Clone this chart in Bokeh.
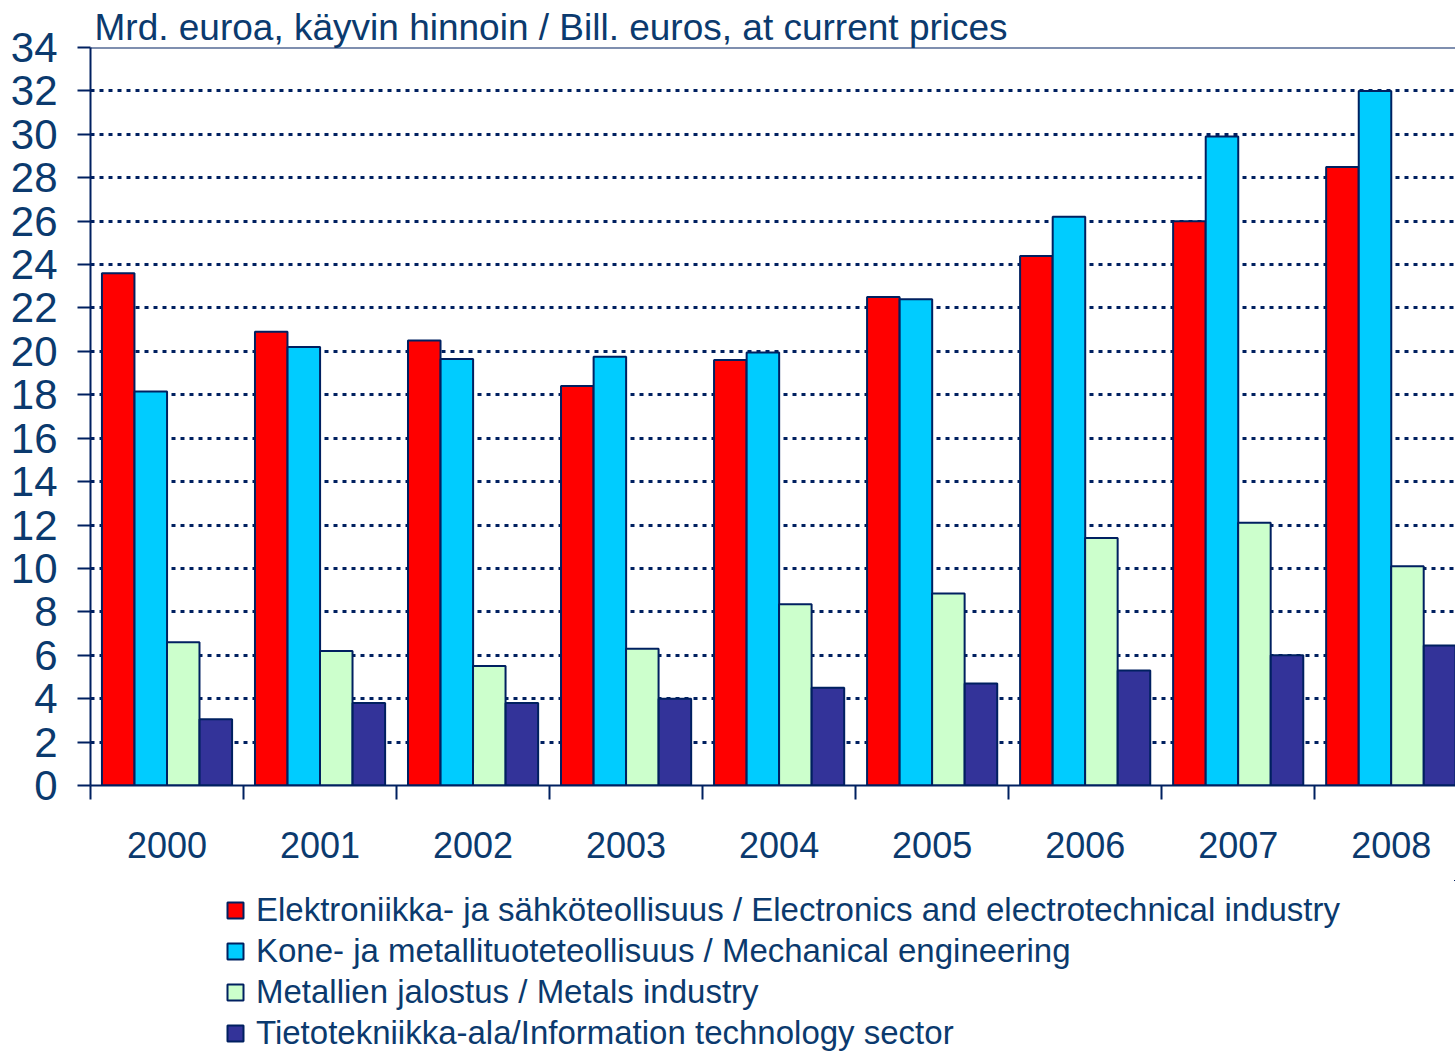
from bokeh.plotting import figure
from bokeh.layouts import column
from bokeh.models import Range1d, FixedTicker, Span, Legend, LegendItem, ColumnDataSource, Title
from bokeh.transform import dodge
from bokeh.embed import file_html
from bokeh.resources import INLINE

years = ["2000", "2001", "2002", "2003", "2004", "2005", "2006", "2007", "2008"]
electronics = [23.6, 20.9, 20.5, 18.4, 19.6, 22.5, 24.4, 26.0, 28.5]
mechanical = [18.15, 20.2, 19.65, 19.75, 19.95, 22.4, 26.2, 29.9, 32.0]
metals = [6.6, 6.2, 5.5, 6.3, 8.35, 8.85, 11.4, 12.1, 10.1]
it_sector = [3.05, 3.8, 3.8, 4.0, 4.5, 4.7, 5.3, 6.0, 6.45]
series_labels = [
    "Elektroniikka- ja sähköteollisuus / Electronics and electrotechnical industry",
    "Kone- ja metallituoteteollisuus / Mechanical engineering",
    "Metallien jalostus / Metals industry",
    "Tietotekniikka-ala/Information technology sector",
]
y_ticks = list(range(0, 35, 2))
title_text = "Mrd. euroa, käyvin hinnoin / Bill. euros, at current prices"

colors = ["#FF0000", "#00CCFF", "#CCFFCC", "#333399"]
navy = "#002060"
txt = "#0B3A6E"
font = "Liberation Sans"

xc = [i + 0.5 for i in range(len(years))]
src = ColumnDataSource(dict(x=xc, e=electronics, m=mechanical, mt=metals, it=it_sector))

p = figure(width=1455, height=880, output_backend="svg", toolbar_location=None,
           x_range=Range1d(0, 8.92), y_range=Range1d(0, 34),
           min_border_left=90, min_border_right=0, min_border_top=47,
           min_border_bottom=95)
p.outline_line_color = None
p.background_fill_color = "white"

p.title = Title(text=title_text, text_font=font, text_font_size="37px",
                text_color=txt, text_font_style="normal", align="left", offset=4,
                standoff=0)

# grid
p.xgrid.grid_line_color = None
p.ygrid.ticker = FixedTicker(ticks=y_ticks[1:-1])
p.ygrid.grid_line_color = navy
p.ygrid.grid_line_width = 3
p.ygrid.grid_line_dash = "4 5"
p.add_layout(Span(location=34, dimension="width", line_color=navy, line_width=2))

offsets = [-0.319, -0.106, 0.106, 0.319]
cols = ["e", "m", "mt", "it"]
for c, off, col in zip(cols, offsets, colors):
    p.vbar(x=dodge("x", off, range=p.x_range), top=c, width=0.2125, bottom=0,
           source=src, fill_color=col, line_color=navy, line_width=2)

# y axis
p.yaxis.ticker = FixedTicker(ticks=y_ticks)
p.yaxis.axis_line_color = navy
p.yaxis.axis_line_width = 2
p.yaxis.major_tick_line_color = navy
p.yaxis.major_tick_line_width = 2
p.yaxis.major_tick_in = 0
p.yaxis.major_tick_out = 13
p.yaxis.minor_tick_line_color = None
p.yaxis.major_label_text_font = font
p.yaxis.major_label_text_font_size = "42px"
p.yaxis.major_label_text_color = txt
p.yaxis.major_label_standoff = 20

# x axis
p.xaxis.ticker = FixedTicker(ticks=xc, minor_ticks=list(range(0, 10)))
p.xaxis.major_label_overrides = {x: y for x, y in zip(xc, years)}
p.xaxis.axis_line_color = navy
p.xaxis.axis_line_width = 2
p.xaxis.major_tick_line_color = None
p.xaxis.major_tick_in = 0
p.xaxis.major_tick_out = 0
p.xaxis.minor_tick_line_color = navy
p.xaxis.minor_tick_line_width = 2
p.xaxis.minor_tick_in = 0
p.xaxis.minor_tick_out = 14
p.xaxis.major_label_text_font = font
p.xaxis.major_label_text_font_size = "36px"
p.xaxis.major_label_text_color = txt
p.xaxis.major_label_standoff = 32

# legend in a separate strip below the chart; it shares the chart's data source,
# whose bars fall outside this strip's visible range
lg = figure(width=1455, height=174, output_backend="svg", toolbar_location=None,
            x_axis_type=None, y_axis_type=None,
            x_range=Range1d(-1001, -1000), y_range=Range1d(-1001, -1000),
            min_border_left=90, min_border_right=0, min_border_top=0, min_border_bottom=0)
lg.grid.visible = False
lg.outline_line_color = None
leg_r = [lg.vbar(x="x", top=c, width=0.2, bottom=0, source=src, fill_color=col,
                 line_color=navy, line_width=2) for c, col in zip(cols, colors)]
legend = Legend(items=[LegendItem(label=l, renderers=[r]) for l, r in zip(series_labels, leg_r)],
                location=(135, 2), orientation="vertical",
                label_text_font=font, label_text_font_size="33px", label_text_color=txt,
                glyph_width=20, glyph_height=20, label_height=36, spacing=3,
                label_standoff=11, padding=0, margin=0,
                border_line_color=None, background_fill_alpha=0)
lg.add_layout(legend, "center")

layout = column(p, lg, spacing=0)
open("out.html", "w").write(file_html(layout, INLINE))
